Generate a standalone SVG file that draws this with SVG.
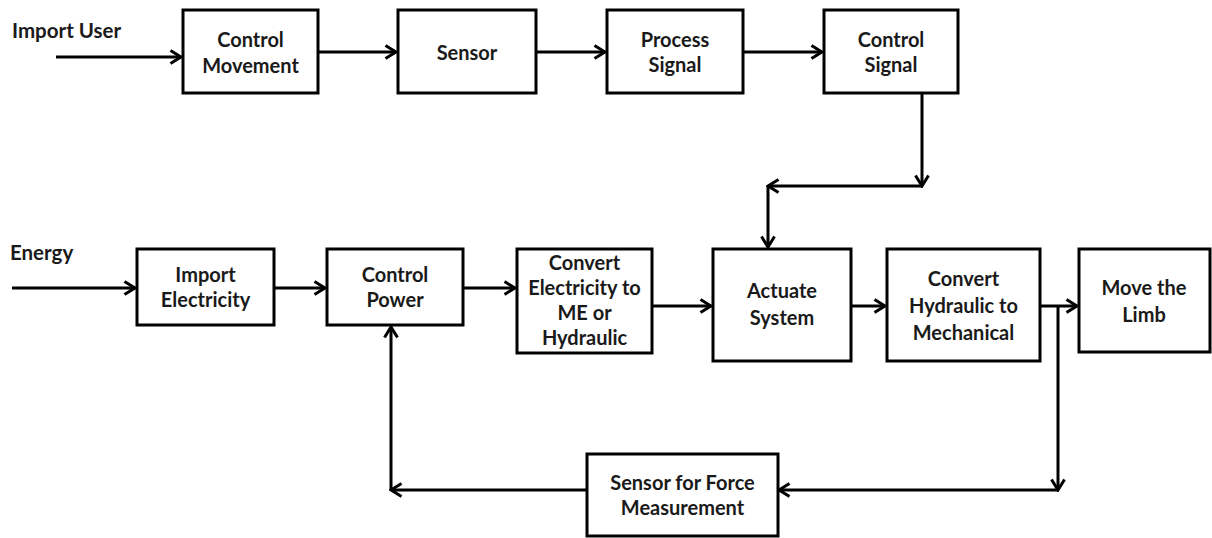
<svg xmlns="http://www.w3.org/2000/svg" width="1212" height="538" viewBox="0 0 1212 538">
  <style>
    .box { fill: #ffffff; stroke: #000000; stroke-width: 3; }
    .lbl { font-family: Lato, "Liberation Sans", sans-serif; font-weight: 700; font-size: 20px; fill: #1a1a1a; text-anchor: middle; }
    .side { font-family: Lato, "Liberation Sans", sans-serif; font-weight: 700; font-size: 20.5px; fill: #1a1a1a; }
    .wire { fill: none; stroke: #000000; stroke-width: 3; }
  </style>
  <defs>
    <marker id="chev" viewBox="0 0 14 16" refX="12" refY="8" markerWidth="14" markerHeight="16" markerUnits="userSpaceOnUse" orient="auto">
      <path d="M1.5,1.5 L12,8 L1.5,14.5" fill="none" stroke="#000000" stroke-width="3"/>
    </marker>
  </defs>
  <rect width="1212" height="538" fill="#ffffff"/>

  <text class="side" x="12" y="38">Import User</text>
  <text class="side" x="10" y="260">Energy</text>

  <!-- connectors -->
  <g id="connectors">
    <path class="wire" d="M56,57 H181" marker-end="url(#chev)"/>
    <path class="wire" d="M318,52 H396" marker-end="url(#chev)"/>
    <path class="wire" d="M536,52 H605" marker-end="url(#chev)"/>
    <path class="wire" d="M743,52 H822" marker-end="url(#chev)"/>
    <path class="wire" d="M922,93 V186" marker-end="url(#chev)"/>
    <path class="wire" d="M922,186 H768" marker-end="url(#chev)"/>
    <path class="wire" d="M768,186 V247" marker-end="url(#chev)"/>
    <path class="wire" d="M12,288 H135" marker-end="url(#chev)"/>
    <path class="wire" d="M274,288 H325" marker-end="url(#chev)"/>
    <path class="wire" d="M463,288 H515" marker-end="url(#chev)"/>
    <path class="wire" d="M652,306 H711" marker-end="url(#chev)"/>
    <path class="wire" d="M851,306 H885" marker-end="url(#chev)"/>
    <path class="wire" d="M1040,306 H1077" marker-end="url(#chev)"/>
    <path class="wire" d="M1058,306 V490" marker-end="url(#chev)"/>
    <path class="wire" d="M1058,490 H779" marker-end="url(#chev)"/>
    <path class="wire" d="M587,490 H391" marker-end="url(#chev)"/>
    <path class="wire" d="M391,490 V327" marker-end="url(#chev)"/>
  </g>

  <g id="control-movement">
    <rect class="box" x="183" y="10" width="135" height="83"/>
    <text class="lbl" x="250.5" y="47">Control</text>
    <text class="lbl" x="250.5" y="73">Movement</text>
  </g>
  <g id="sensor">
    <rect class="box" x="398" y="10" width="138" height="83"/>
    <text class="lbl" x="467" y="60">Sensor</text>
  </g>
  <g id="process-signal">
    <rect class="box" x="607" y="10" width="136" height="83"/>
    <text class="lbl" x="675" y="47">Process</text>
    <text class="lbl" x="675" y="72">Signal</text>
  </g>
  <g id="control-signal">
    <rect class="box" x="824" y="10" width="134" height="83"/>
    <text class="lbl" x="891" y="47">Control</text>
    <text class="lbl" x="891" y="72">Signal</text>
  </g>

  <g id="import-electricity">
    <rect class="box" x="137" y="249" width="137" height="76"/>
    <text class="lbl" x="205.5" y="282">Import</text>
    <text class="lbl" x="205.5" y="307">Electricity</text>
  </g>
  <g id="control-power">
    <rect class="box" x="327" y="249" width="136" height="76"/>
    <text class="lbl" x="395" y="282">Control</text>
    <text class="lbl" x="395" y="307">Power</text>
  </g>
  <g id="convert-electricity">
    <rect class="box" x="517" y="249" width="135" height="104"/>
    <text class="lbl" x="584.5" y="270">Convert</text>
    <text class="lbl" x="584.5" y="295">Electricity to</text>
    <text class="lbl" x="584.5" y="320">ME or</text>
    <text class="lbl" x="584.5" y="345">Hydraulic</text>
  </g>
  <g id="actuate-system">
    <rect class="box" x="713" y="249" width="138" height="112"/>
    <text class="lbl" x="782" y="298">Actuate</text>
    <text class="lbl" x="782" y="325">System</text>
  </g>
  <g id="convert-hydraulic">
    <rect class="box" x="887" y="249" width="153" height="112"/>
    <text class="lbl" x="963.5" y="286">Convert</text>
    <text class="lbl" x="963.5" y="313">Hydraulic to</text>
    <text class="lbl" x="963.5" y="340">Mechanical</text>
  </g>
  <g id="move-limb">
    <rect class="box" x="1079" y="249" width="131" height="103"/>
    <text class="lbl" x="1144" y="295">Move the</text>
    <text class="lbl" x="1144" y="322">Limb</text>
  </g>
  <g id="force-sensor">
    <rect class="box" x="587" y="454" width="191" height="82"/>
    <text class="lbl" x="682.5" y="490">Sensor for Force</text>
    <text class="lbl" x="682.5" y="515">Measurement</text>
  </g>
</svg>
